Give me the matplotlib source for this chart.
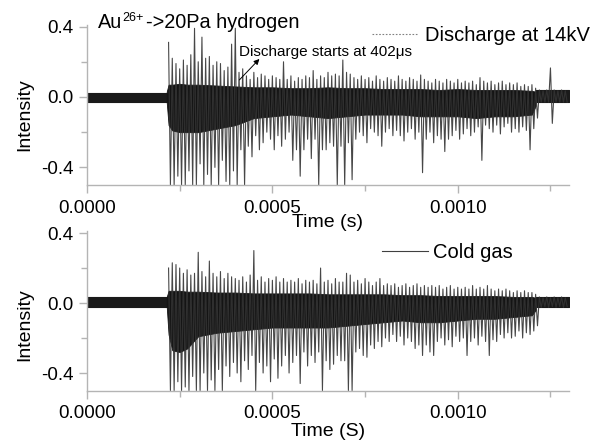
import numpy as np
import matplotlib
matplotlib.use("Agg")
import matplotlib.pyplot as plt
from matplotlib.lines import Line2D
from matplotlib.ticker import FixedLocator, FormatStrFormatter
from matplotlib import transforms

plt.rcParams['font.family'] = ['Liberation Sans', 'DejaVu Sans']

# ---------------- data ----------------
# time grid of the peak envelope, microseconds
peak_t_us = np.arange(220, 1300, 10)

top_up = [0.31, 0.22, 0.19, 0.16, 0.21, 0.18, 0.24, 0.39, 0.20, 0.34,
          0.22, 0.23, 0.18, 0.20, 0.19, 0.15, 0.17, 0.30, 0.39, 0.14,
          0.16, 0.12, 0.10, 0.14, 0.11, 0.13, 0.12, 0.10, 0.12, 0.11,
          0.10, 0.20, 0.10, 0.12, 0.09, 0.11, 0.10, 0.12, 0.11, 0.15,
          0.10, 0.12, 0.11, 0.14, 0.12, 0.13, 0.12, 0.21, 0.14, 0.13,
          0.11, 0.10, 0.12, 0.10, 0.11, 0.09, 0.12, 0.10, 0.09, 0.11,
          0.10, 0.09, 0.12, 0.10, 0.09, 0.11, 0.10, 0.09, 0.125, 0.10,
          0.09, 0.08, 0.10, 0.09, 0.08, 0.10, 0.09, 0.08, 0.10, 0.08,
          0.09, 0.08, 0.09, 0.07, 0.11, 0.09, 0.08, 0.09, 0.07, 0.08,
          0.09, 0.07, 0.08, 0.07, 0.08, 0.06, 0.07, 0.06, 0.07, 0.05,
          0.04, 0.035, 0.04, 0.165, 0.04, 0.035, 0.04, 0.035]
top_dn = [-0.50, -0.50, -0.45, -0.50, -0.50, -0.42, -0.50, -0.50, -0.38, -0.50,
          -0.44, -0.50, -0.40, -0.50, -0.36, -0.48, -0.50, -0.42, -0.50, -0.30,
          -0.50, -0.28, -0.34, -0.22, -0.30, -0.26, -0.20, -0.24, -0.30, -0.22,
          -0.28, -0.24, -0.20, -0.36, -0.30, -0.45, -0.30, -0.24, -0.35, -0.24,
          -0.50, -0.30, -0.30, -0.26, -0.28, -0.50, -0.28, -0.50, -0.26, -0.47,
          -0.24, -0.20, -0.22, -0.26, -0.18, -0.20, -0.22, -0.28, -0.20, -0.18,
          -0.22, -0.19, -0.22, -0.25, -0.20, -0.18, -0.24, -0.20, -0.43, -0.24,
          -0.20, -0.26, -0.22, -0.24, -0.31, -0.24, -0.22, -0.19, -0.24, -0.21,
          -0.18, -0.22, -0.20, -0.17, -0.36, -0.16, -0.18, -0.20, -0.16, -0.21,
          -0.17, -0.15, -0.20, -0.18, -0.20, -0.17, -0.19, -0.30, -0.18, -0.12,
          -0.03, -0.03, -0.03, -0.15, -0.03, -0.03, -0.03, -0.03]

bot_up = [0.20, 0.23, 0.22, 0.20, 0.17, 0.19, 0.16, 0.17, 0.29, 0.18,
          0.15, 0.24, 0.17, 0.15, 0.18, 0.14, 0.17, 0.15, 0.14, 0.13,
          0.15, 0.12, 0.16, 0.30, 0.13, 0.15, 0.12, 0.14, 0.13, 0.15,
          0.12, 0.14, 0.12, 0.13, 0.12, 0.14, 0.11, 0.13, 0.12, 0.13,
          0.11, 0.20, 0.12, 0.13, 0.11, 0.14, 0.12, 0.12, 0.17, 0.16,
          0.12, 0.13, 0.11, 0.14, 0.12, 0.10, 0.12, 0.14, 0.10, 0.11,
          0.10, 0.11, 0.09, 0.10, 0.11, 0.09, 0.10, 0.11, 0.09, 0.10,
          0.09, 0.10, 0.09, 0.10, 0.08, 0.09, 0.10, 0.08, 0.09, 0.08,
          0.09, 0.08, 0.10, 0.08, 0.09, 0.08, 0.10, 0.08, 0.07, 0.08,
          0.07, 0.08, 0.07, 0.06, 0.07, 0.06, 0.07, 0.06, 0.06, 0.05,
          0.035, 0.03, 0.035, 0.03, 0.035, 0.03, 0.035, 0.03]
bot_dn = [-0.50, -0.50, -0.45, -0.50, -0.48, -0.50, -0.42, -0.50, -0.50, -0.40,
          -0.50, -0.44, -0.50, -0.38, -0.50, -0.36, -0.42, -0.34, -0.40, -0.45,
          -0.33, -0.38, -0.30, -0.50, -0.34, -0.40, -0.36, -0.45, -0.32, -0.43,
          -0.36, -0.30, -0.40, -0.34, -0.30, -0.46, -0.28, -0.36, -0.30, -0.34,
          -0.28, -0.50, -0.33, -0.38, -0.35, -0.30, -0.33, -0.33, -0.50, -0.50,
          -0.28, -0.26, -0.30, -0.31, -0.24, -0.26, -0.22, -0.25, -0.20, -0.22,
          -0.18, -0.22, -0.19, -0.24, -0.20, -0.22, -0.26, -0.24, -0.30, -0.24,
          -0.28, -0.30, -0.22, -0.20, -0.24, -0.21, -0.25, -0.19, -0.22, -0.20,
          -0.30, -0.22, -0.20, -0.24, -0.19, -0.22, -0.30, -0.21, -0.22, -0.18,
          -0.20, -0.17, -0.20, -0.19, -0.16, -0.20, -0.17, -0.18, -0.16, -0.13,
          -0.025, -0.02, -0.025, -0.02, -0.025, -0.02, -0.025, -0.02]

# dense core of the discharge signal (microseconds)
core_t_us = [215, 220, 230, 250, 270, 300, 350, 400, 450, 500, 550, 600, 650,
             700, 750, 800, 850, 900, 950, 1000, 1050, 1100, 1150, 1200, 1210]
top_core_hi = [0.03, 0.07, 0.07, 0.075, 0.07, 0.07, 0.065, 0.06, 0.055, 0.055, 0.05, 0.05,
               0.055, 0.05, 0.05, 0.045, 0.045, 0.045, 0.04, 0.045, 0.04, 0.04, 0.04, 0.035, 0.03]
top_core_lo = [-0.03, -0.16, -0.19, -0.20, -0.20, -0.20, -0.18, -0.16, -0.12, -0.11, -0.10, -0.11,
               -0.12, -0.11, -0.10, -0.10, -0.10, -0.11, -0.11, -0.11, -0.12, -0.11, -0.11, -0.10, -0.05]
bot_core_hi = [0.035, 0.07, 0.07, 0.07, 0.065, 0.065, 0.06, 0.06, 0.055, 0.055, 0.055, 0.055,
               0.05, 0.05, 0.05, 0.05, 0.045, 0.045, 0.04, 0.04, 0.04, 0.04, 0.035, 0.035, 0.03]
bot_core_lo = [-0.02, -0.18, -0.27, -0.28, -0.26, -0.19, -0.17, -0.16, -0.15, -0.14, -0.14, -0.14,
               -0.14, -0.13, -0.12, -0.11, -0.10, -0.11, -0.11, -0.10, -0.09, -0.09, -0.08, -0.07, -0.04]

# quiet baseline band before / after the discharge (microseconds)
pre_t_us = [0, 215]
post_t_us = [1210, 1300]
top_pre = (0.025, -0.028)
top_post = (0.04, -0.03)
bot_pre = (0.035, -0.02)
bot_post = (0.035, -0.025)

x_major = [0.0, 0.0005, 0.0010]
x_minor = [0.00025, 0.00075, 0.00125]
y_major = [-0.4, 0.0, 0.4]
y_minor = [-0.2, 0.2]

# ---------------- figure ----------------
W, H = 604, 442
fig = plt.figure(figsize=(W / 100, H / 100), dpi=100)
ax_l = 87 / W
ax_w = (569 - 87) / W
ax1 = fig.add_axes([ax_l, 1 - 185 / H, ax_w, (185 - 24.8) / H])
ax2 = fig.add_axes([ax_l, 1 - 390.5 / H, ax_w, (390.5 - 231.3) / H])

SIG = '#1a1a1a'
SPINE = '#b4b4b4'


def draw_signal(ax, up, dn, core_hi, core_lo, pre, post):
    t = np.asarray(peak_t_us) * 1e-6
    tz = np.empty(2 * len(t))
    vz = np.empty(2 * len(t))
    tz[0::2] = t
    tz[1::2] = t + 5e-6
    vz[0::2] = up
    vz[1::2] = dn
    ct = np.asarray(core_t_us) * 1e-6
    ax.fill_between(np.asarray(pre_t_us) * 1e-6, [pre[1]] * 2, [pre[0]] * 2,
                    color=SIG, lw=0.8)
    ax.fill_between(np.asarray(post_t_us) * 1e-6, [post[1]] * 2, [post[0]] * 2,
                    color=SIG, lw=0.8)
    ax.fill_between(ct, core_lo, core_hi, color='#141414', lw=0.6)
    ax.plot(tz, vz, color='#333333', lw=0.8, alpha=0.9)


draw_signal(ax1, top_up, top_dn, top_core_hi, top_core_lo, top_pre, top_post)
draw_signal(ax2, bot_up, bot_dn, bot_core_hi, bot_core_lo, bot_pre, bot_post)

for ax, xlab, ylab_y, xlab_y in [(ax1, 'Time (s)', 0.437, -0.181),
                                 (ax2, 'Time (S)', 0.411, -0.204)]:
    ax.set_xlim(0, 0.0013)
    ax.set_ylim(-0.5, 0.41)
    for s in ['top', 'right']:
        ax.spines[s].set_visible(False)
    for s in ['left', 'bottom']:
        ax.spines[s].set_color(SPINE)
        ax.spines[s].set_linewidth(1.0)
    ax.xaxis.set_major_locator(FixedLocator(x_major))
    ax.xaxis.set_minor_locator(FixedLocator(x_minor))
    ax.yaxis.set_major_locator(FixedLocator(y_major))
    ax.yaxis.set_minor_locator(FixedLocator(y_minor))
    ax.xaxis.set_major_formatter(FormatStrFormatter('%.4f'))
    ax.yaxis.set_major_formatter(FormatStrFormatter('%.1f'))
    ax.tick_params(which='both', direction='out', color=SPINE, width=1.0,
                   labelsize=13.5, labelcolor='black')
    ax.tick_params(which='major', length=5.5)
    ax.tick_params(which='minor', length=4)
    ax.tick_params(axis='x', which='major', pad=5)
    ax.tick_params(axis='y', which='major', pad=4)
    ax.set_xlabel(xlab, fontsize=14)
    ax.set_ylabel('Intensity', fontsize=14)
    ax.yaxis.set_label_coords(-0.112, ylab_y)
    ax.xaxis.set_label_coords(0.5, xlab_y)
    ax.xaxis.label.set_va('top')

# title text in top panel: "Au" + superscript "26+" + "->20Pa hydrogen"
fig.canvas.draw()
renderer = fig.canvas.get_renderer()
t_au = ax1.text(0.0000296, 0.392, 'Au', fontsize=14.3, ha='left', va='baseline')
w_au = t_au.get_window_extent(renderer).width
tr_sup = transforms.offset_copy(ax1.transData, fig=fig, x=w_au + 0.5, y=7, units='dots')
t_sup = ax1.text(0.0000296, 0.392, '26+', fontsize=9, ha='left', va='baseline',
                 transform=tr_sup)
w_sup = t_sup.get_window_extent(renderer).width
tr_rest = transforms.offset_copy(ax1.transData, fig=fig, x=w_au + w_sup + 2, y=0,
                                 units='dots')
ax1.text(0.0000296, 0.392, '->20Pa hydrogen', fontsize=14.3, ha='left',
         va='baseline', transform=tr_rest)

# annotation
ax1.annotate('', xy=(0.000465, 0.216), xytext=(0.000411, 0.097),
             arrowprops=dict(arrowstyle='-|>', color='black', lw=0.7,
                             mutation_scale=8, shrinkA=0, shrinkB=0))
ax1.text(0.000411, 0.233, 'Discharge starts at 402\u03bcs', fontsize=11,
         ha='left', va='baseline')

# legends
h1 = Line2D([], [], color='#808080', ls=(0, (1.5, 1.5)), lw=0.8)
ax1.legend([h1], ['Discharge at 14kV'], loc='center left',
           bbox_to_anchor=(0.591, 0.936), frameon=False, fontsize=14.5,
           handlelength=2.3, handletextpad=0.35, borderpad=0,
           borderaxespad=0)
h2 = Line2D([], [], color='#404040', lw=0.8)
ax2.legend([h2], ['Cold gas'], loc='center left',
           bbox_to_anchor=(0.612, 0.864), frameon=False, fontsize=14.5,
           handlelength=2.3, handletextpad=0.25, borderpad=0,
           borderaxespad=0)

fig.savefig('out.png', dpi=100)
